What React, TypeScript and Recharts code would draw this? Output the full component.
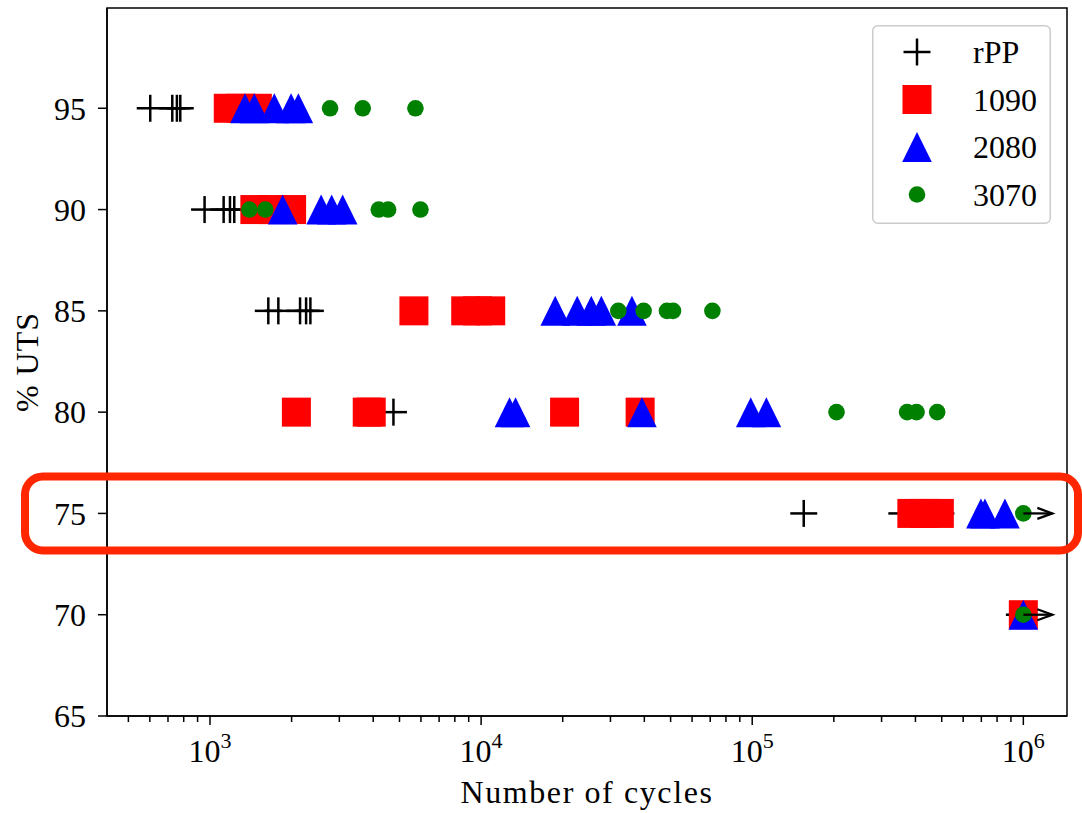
import React from 'react';
import { ScatterChart, Scatter, XAxis, YAxis, ReferenceArea, Legend } from 'recharts';

const FONT = "'Liberation Serif', 'Times New Roman', serif";

// stress levels (% UTS), one row of cycle counts per level in each series below
const stressLevels = [95, 90, 85, 80, 75, 70];

const rppCycles = [
  [602, 726, 755, 777],
  [955, 1123, 1185, 1229],
  [1641, 1787, 2149, 2262, 2346],
  [4750],
  [154900, 356300, 496400],
  [967000],
];

const cycles1090 = [
  [1168, 1300, 1495],
  [1464, 1700, 2000],
  [5652, 8775, 9700, 10850],
  [2083, 3802, 3933, 20320, 38600],
  [388000, 433000, 490000],
  [1000000],
];

const cycles2080 = [
  [1346, 1457, 1727, 1991, 2118],
  [1854, 2570, 2811, 3086],
  [18770, 22620, 25490, 27760, 36000],
  [12730, 13400, 39200, 98740, 112800],
  [697500, 721700, 855300],
  [1000000],
];

const cycles3070 = [
  [2773, 3659, 5725],
  [1397, 1600, 4193, 4540, 5974],
  [32070, 39760, 48480, 51030, 71310],
  [204600, 372700, 403700, 481100],
  [1000000],
  [1000000],
];

// specimens that did not fail (run-outs)
const runoutCycles = [[], [], [], [], [1000000], [1000000]];

const xDomain = [417, 1449000];
const yDomain = [65, 99.95];
const majorTicks = [1e3, 1e4, 1e5, 1e6];
const minorTicks = [1e2, 1e3, 1e4, 1e5]
  .flatMap((d) => [2, 3, 4, 5, 6, 7, 8, 9].map((m) => m * d))
  .filter((v) => v > xDomain[0] && v < xDomain[1]);
const xTicks = [...majorTicks, ...minorTicks].sort((a, b) => a - b);
const utsTicks = [65, 70, 75, 80, 85, 90, 95];

const toPoints = (rows: number[][]) =>
  rows.flatMap((row, i) => row.map((cycles) => ({ cycles, uts: stressLevels[i] })));

const PlusMarker = ({ cx, cy }: any) => (
  <g stroke="#000" strokeWidth={2.5}>
    <line x1={cx - 13.5} x2={cx + 13.5} y1={cy} y2={cy} />
    <line x1={cx} x2={cx} y1={cy - 13.5} y2={cy + 13.5} />
  </g>
);

const SquareMarker = ({ cx, cy }: any) => (
  <rect x={cx - 14.5} y={cy - 14.5} width={29} height={29} fill="#ff0000" />
);

const TriangleMarker = ({ cx, cy }: any) => (
  <polygon
    points={`${cx},${cy - 15} ${cx - 14.8},${cy + 15} ${cx + 14.8},${cy + 15}`}
    fill="#0000ff"
  />
);

const CircleMarker = ({ cx, cy }: any) => <circle cx={cx} cy={cy} r={8.3} fill="#008000" />;

const ArrowMarker = ({ cx, cy }: any) => (
  <g stroke="#000" strokeWidth={2.3} fill="none">
    <line x1={cx} x2={cx + 29} y1={cy} y2={cy} />
    <polyline points={`${cx + 14},${cy - 5.5} ${cx + 29},${cy} ${cx + 14},${cy + 5.5}`} />
  </g>
);

const series = [
  { name: 'rPP', rows: rppCycles, marker: PlusMarker },
  { name: '1090', rows: cycles1090, marker: SquareMarker },
  { name: '2080', rows: cycles2080, marker: TriangleMarker },
  { name: '3070', rows: cycles3070, marker: CircleMarker },
];

const XTick = ({ x, y, payload }: any) => {
  const v = payload.value;
  const major = majorTicks.includes(v);
  return (
    <g>
      <line x1={x} x2={x} y1={y} y2={y + (major ? 9 : 6)} stroke="#000" strokeWidth={1.5} />
      {major && (
        <text x={x} y={y + 46} textAnchor="middle" fontFamily={FONT} fontSize={32} fill="#000">
          10
          <tspan dy={-14} fontSize={22}>
            {Math.round(Math.log10(v))}
          </tspan>
        </text>
      )}
    </g>
  );
};

const XLabel = ({ viewBox }: any) => (
  <text
    x={viewBox.x + viewBox.width / 2}
    y={viewBox.y + 87}
    textAnchor="middle"
    fontFamily={FONT}
    fontSize={32}
    letterSpacing={1.6}
    fill="#000"
  >
    Number of cycles
  </text>
);

const YLabel = ({ viewBox }: any) => {
  const x = viewBox.x + 38;
  const y = viewBox.y + viewBox.height / 2;
  return (
    <text
      x={x}
      y={y}
      transform={`rotate(-90 ${x} ${y})`}
      textAnchor="middle"
      fontFamily={FONT}
      fontSize={32}
      letterSpacing={1}
      fill="#000"
    >
      % UTS
    </text>
  );
};

// legend rows follow the plotting order of the series
const LegendBox = ({ payload }: any) => {
  const names = (payload || []).map((p: any) => p.value);
  const items = series.filter((s) => names.includes(s.name));
  return (
    <svg width={179} height={199}>
      <rect x={0.75} y={0.75} width={177.5} height={197.5} rx={5} fill="#fff" stroke="#cccccc" strokeWidth={1.5} />
      {items.map((s, i) => {
        const Marker = s.marker;
        const cy = 27 + i * 47.5;
        return (
          <g key={s.name}>
            <Marker cx={45} cy={cy} />
            <text x={101} y={cy} dy="0.35em" fontFamily={FONT} fontSize={32} fill="#000">
              {s.name}
            </text>
          </g>
        );
      })}
    </svg>
  );
};

export default function App() {
  return (
    <div style={{ position: 'absolute', left: 0, top: 0, width: 1082, height: 813, background: '#fff' }}>
      <ScatterChart width={1082} height={813} margin={{ top: 8, right: 15, left: 0, bottom: 0 }}>
        <XAxis
          type="number"
          dataKey="cycles"
          scale="log"
          domain={xDomain}
          allowDataOverflow
          ticks={xTicks}
          interval={0}
          tickLine={false}
          tickSize={0}
          tickMargin={0}
          tick={<XTick />}
          height={97}
          axisLine={{ stroke: '#000', strokeWidth: 1.5 }}
          label={{ content: XLabel }}
        />
        <YAxis
          type="number"
          dataKey="uts"
          domain={yDomain}
          allowDataOverflow
          ticks={utsTicks}
          interval={0}
          tickSize={9}
          tickMargin={12}
          width={107}
          tick={{ fill: '#000', fontSize: 32, fontFamily: FONT }}
          tickLine={{ stroke: '#000', strokeWidth: 1.5 }}
          axisLine={{ stroke: '#000', strokeWidth: 1.5 }}
          label={{ content: YLabel }}
        />
        <ReferenceArea
          x1={xDomain[0]}
          x2={xDomain[1]}
          y1={yDomain[0]}
          y2={yDomain[1]}
          fill="none"
          stroke="#000"
          strokeWidth={1.5}
        />
        {series.map((s) => (
          <Scatter
            key={s.name}
            name={s.name}
            data={toPoints(s.rows)}
            shape={s.marker}
            isAnimationActive={false}
          />
        ))}
        <Scatter
          name="run-out"
          data={toPoints(runoutCycles)}
          shape={ArrowMarker}
          legendType="none"
          isAnimationActive={false}
        />
        <Legend
          layout="horizontal"
          verticalAlign="middle"
          align="center"
          wrapperStyle={{ top: 25, left: 872, width: 179, height: 199 }}
          content={LegendBox}
        />
      </ScatterChart>
      <svg
        width={1082}
        height={813}
        style={{ position: 'absolute', left: 0, top: 0, pointerEvents: 'none' }}
      >
        <rect x={25} y={476.5} width={1053} height={74} rx={18} fill="none" stroke="#ff2600" strokeWidth={8} />
      </svg>
    </div>
  );
}
